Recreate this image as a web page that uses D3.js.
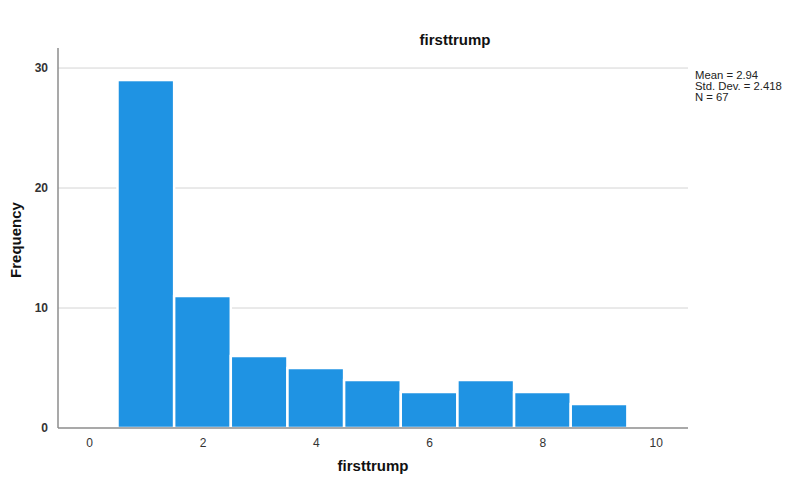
<!DOCTYPE html>
<html><head><meta charset="utf-8">
<script src="https://cdn.jsdelivr.net/npm/d3@7"></script>
<style>body{margin:0;background:#fff;}svg{display:block;font-family:"Liberation Sans",Arial,sans-serif;}</style>
</head><body>
<svg id="c" width="790" height="477"></svg>
<script>
const binCenters = [1, 2, 3, 4, 5, 6, 7, 8, 9];
const frequencies = [29, 11, 6, 5, 4, 3, 4, 3, 2];
const xTicks = [0, 2, 4, 6, 8, 10];
const yTicks = [0, 10, 20, 30];
const statsLines = ["Mean = 2.94", "Std. Dev. = 2.418", "N = 67"];
const titleText = "firsttrump";
const xLabel = "firsttrump";
const yLabel = "Frequency";

(function () {
const svg = d3.select("#c");
const pLeft = 58, pRight = 688, pTop = 48, pBottom = 428;
const x = d3.scaleLinear().domain([-0.55, 10.57]).range([pLeft, pRight]);
const y = d3.scaleLinear().domain([0, 31.67]).range([pBottom, pTop]);

// gridlines
svg.append("g").selectAll("line").data(yTicks.filter(d => d > 0)).join("line")
  .attr("x1", pLeft).attr("x2", pRight)
  .attr("y1", d => y(d)).attr("y2", d => y(d))
  .attr("stroke", "#d4d4d4").attr("stroke-width", 1);

// bars
svg.append("g").selectAll("rect").data(binCenters).join("rect")
  .attr("x", (d) => x(d - 0.5))
  .attr("width", (d) => x(d + 0.5) - x(d - 0.5))
  .attr("y", (d, i) => y(frequencies[i]))
  .attr("height", (d, i) => y(0) - y(frequencies[i]))
  .attr("fill", "#1f93e3")
  .attr("stroke", "#ffffff").attr("stroke-width", 2.5);

// axes
const xAxis = svg.append("g").attr("transform", `translate(0,${pBottom})`)
  .call(d3.axisBottom(x).tickValues(xTicks).tickSize(0).tickPadding(10).tickFormat(d3.format("d")));
xAxis.select(".domain").attr("stroke", "#8c8c8c").attr("stroke-width", 1.5).attr("d", `M${pLeft},0H${pRight}`);
xAxis.selectAll("text").attr("font-size", 12).attr("fill", "#333").attr("font-family", "Liberation Sans, Arial, sans-serif");

const yAxis = svg.append("g").attr("transform", `translate(${pLeft},0)`)
  .call(d3.axisLeft(y).tickValues(yTicks).tickSize(0).tickPadding(10).tickFormat(d3.format("d")));
yAxis.select(".domain").attr("stroke", "#8c8c8c").attr("stroke-width", 1.5).attr("d", `M0,${pTop}V${pBottom}`);
yAxis.selectAll("text").attr("font-size", 12).attr("font-weight", "bold").attr("fill", "#333").attr("font-family", "Liberation Sans, Arial, sans-serif");

// title
svg.append("text").attr("x", 455).attr("y", 45).attr("text-anchor", "middle")
  .attr("font-size", 15).attr("font-weight", "bold").attr("fill", "#111").text(titleText);

// x label
svg.append("text").attr("x", 373).attr("y", 471).attr("text-anchor", "middle")
  .attr("font-size", 15).attr("font-weight", "bold").attr("fill", "#111").text(xLabel);

// y label
svg.append("text").attr("transform", "translate(21,240) rotate(-90)").attr("text-anchor", "middle")
  .attr("font-size", 15).attr("font-weight", "bold").attr("fill", "#111").text(yLabel);

// stats
svg.append("g").selectAll("text").data(statsLines).join("text")
  .attr("x", 695).attr("y", (d, i) => 78.5 + i * 11)
  .attr("font-size", 11.3).attr("fill", "#222").text(d => d);
})();
</script>
</body></html>
